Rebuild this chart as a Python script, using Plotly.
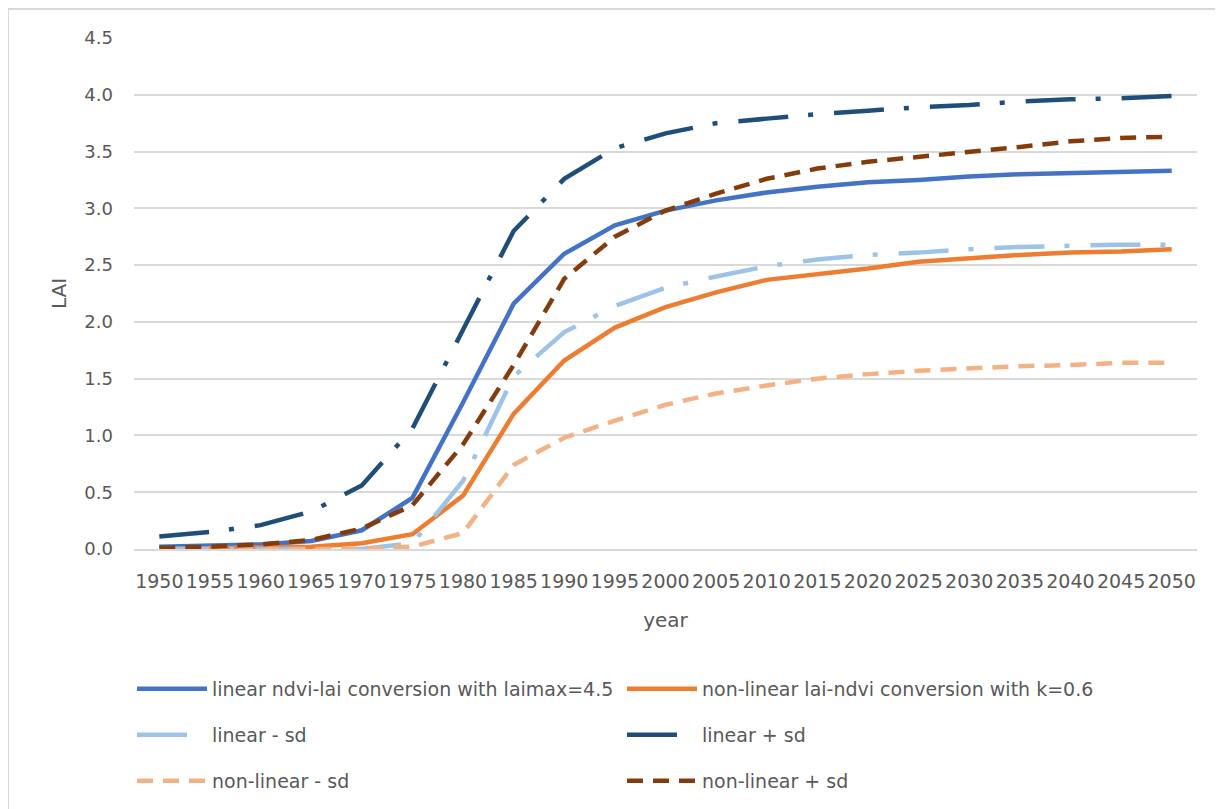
import plotly.graph_objects as go

years = [str(y) for y in range(1950, 2051, 5)]

linear = [0.02, 0.03, 0.04, 0.07, 0.165, 0.45, 1.29, 2.16, 2.60, 2.85, 2.98, 3.07, 3.14, 3.19, 3.23, 3.25, 3.28, 3.30, 3.31, 3.32, 3.33]
nonlinear = [0.0, 0.005, 0.01, 0.02, 0.05, 0.13, 0.47, 1.19, 1.66, 1.95, 2.13, 2.26, 2.37, 2.42, 2.47, 2.53, 2.56, 2.59, 2.61, 2.62, 2.64]
linear_minus = [0.0, 0.0, 0.0, 0.0, 0.0, 0.05, 0.60, 1.52, 1.91, 2.14, 2.30, 2.40, 2.49, 2.55, 2.59, 2.61, 2.64, 2.66, 2.67, 2.68, 2.68]
linear_plus = [0.11, 0.15, 0.21, 0.33, 0.56, 1.06, 1.93, 2.80, 3.26, 3.53, 3.66, 3.75, 3.79, 3.83, 3.86, 3.89, 3.91, 3.94, 3.96, 3.97, 3.99]
nonlinear_minus = [0.0, 0.0, 0.0, 0.0, 0.0, 0.02, 0.14, 0.74, 0.98, 1.13, 1.27, 1.37, 1.44, 1.50, 1.54, 1.57, 1.59, 1.61, 1.62, 1.64, 1.64]
nonlinear_plus = [0.01, 0.02, 0.04, 0.08, 0.18, 0.385, 0.92, 1.62, 2.38, 2.75, 2.98, 3.13, 3.26, 3.35, 3.41, 3.45, 3.50, 3.54, 3.59, 3.62, 3.63]

names = [
    "linear ndvi-lai conversion with laimax=4.5",
    "non-linear lai-ndvi conversion with k=0.6",
    "linear - sd",
    "linear + sd",
    "non-linear - sd",
    "non-linear + sd",
]
series = [linear, nonlinear, linear_minus, linear_plus, nonlinear_minus, nonlinear_plus]
colors = ["#4472C4", "#ED7D31", "#9DC3E6", "#1F4E79", "#F4B183", "#843C0C"]
dashes = ["solid", "solid", "50px,20px,5px,21px", "50px,20px,5px,21px", "16px,10px", "16px,10px"]
legends = ["legend", "legend", "legend2", "legend2", "legend3", "legend3"]

GRAY = "#595959"
GRID = "#D9D9D9"
FONT = "DejaVu Sans"

fig = go.Figure()
for name, vals, col, dash, lg in zip(names, series, colors, dashes, legends):
    fig.add_trace(go.Scatter(
        x=years, y=vals, name=name, mode="lines",
        line=dict(color=col, width=4.5, dash=dash),
        legend=lg,
    ))

# page offset (default body margin of the html page)
OFF = 8
W, H = 1223, 809
# target page-pixel positions of the plot area
PL, PR, PT, PB = 134, 1197, 38, 549
L = PL - OFF
T = PT - OFF
R = W - (PR - OFF)
B = H - (PB - OFF)
pw = W - L - R
ph = H - T - B

def px_x(p):
    return (p - OFF - L) / pw

def px_y(p):
    return (H - B - (p - OFF)) / ph

leg_common = dict(
    orientation="h", xanchor="left", yanchor="middle",
    font=dict(family=FONT, size=19, color=GRAY),
    bgcolor="rgba(0,0,0,0)", itemwidth=70,
    entrywidth=405, entrywidthmode="pixels",
)

fig.update_layout(
    width=W, height=H,
    margin=dict(l=L, r=R, t=T, b=B, autoexpand=False),
    paper_bgcolor="white", plot_bgcolor="white",
    font=dict(family=FONT, color=GRAY),
    showlegend=True,
    legend=dict(x=px_x(132), y=px_y(689), **leg_common),
    legend2=dict(x=px_x(132), y=px_y(735), **leg_common),
    legend3=dict(x=px_x(132), y=px_y(781), **leg_common),
    xaxis=dict(
        type="category", range=[-0.5, 20.5],
        tickmode="array", tickvals=years, ticktext=years,
        tickangle=0, showgrid=False, showline=True,
        linecolor=GRID, linewidth=2, zeroline=False,
        ticks="", ticklabelstandoff=14,
        tickfont=dict(family=FONT, size=19, color=GRAY),
        title=dict(text="year", font=dict(family=FONT, size=20, color=GRAY), standoff=22),
    ),
    yaxis=dict(
        range=[0, 4.5], dtick=0.5, tick0=0, tickformat=".1f",
        showgrid=True, gridcolor=GRID, gridwidth=2,
        zeroline=False, showline=False, ticks="",
        ticklabelstandoff=20,
        tickfont=dict(family=FONT, size=18, color=GRAY),
        title=dict(text="LAI", font=dict(family=FONT, size=20, color=GRAY), standoff=12),
    ),
    shapes=[dict(
        type="rect", xref="paper", yref="paper",
        x0=px_x(8), x1=px_x(1300), y0=px_y(900), y1=px_y(9),
        line=dict(color=GRID, width=2), fillcolor="rgba(0,0,0,0)", layer="below",
    )],
)

fig.write_html("out.html")
